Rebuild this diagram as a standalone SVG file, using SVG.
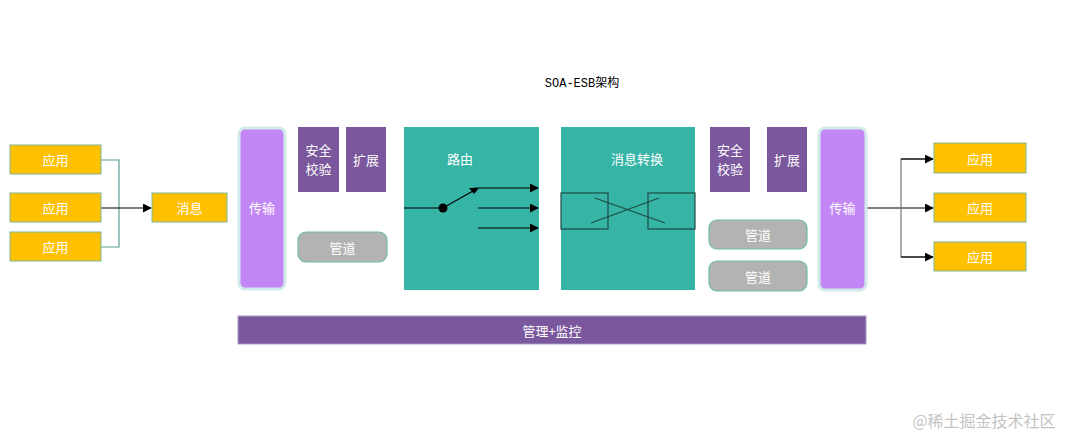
<svg xmlns="http://www.w3.org/2000/svg" width="1080" height="444" viewBox="0 0 1080 444">
<defs>
<marker id="ah" viewBox="0 0 10 10" refX="9" refY="5" markerWidth="9" markerHeight="9" markerUnits="userSpaceOnUse" orient="auto"><path d="M0,0 L10,5 L0,10 z" fill="#000"/></marker>
<style>
text{font-family:"Noto Sans CJK SC","Noto Sans",sans-serif;font-size:13px;fill:#fff;text-anchor:middle;dominant-baseline:central}
.app{fill:#FFC000;stroke:#7DB89A;stroke-width:1}
.dark{fill:#7B579D}
.trans{fill:#C286F5;stroke:#D2EBEA;stroke-width:3}
.pipe{fill:#B3B3B3;stroke:#6DBFA5;stroke-width:1.2}
.teal{fill:#36B5A6}
.ln{stroke:#000;stroke-width:1.2;fill:none}
</style>
</defs>
<rect width="1080" height="444" fill="#fff"/>
<text x="582" y="84" style="font-family:'Liberation Mono','Noto Sans CJK SC',monospace;font-size:12px;fill:#000">SOA-ESB架构</text>

<g id="connectors">
<path d="M101,160 H119 V247 H101" fill="none" stroke="#5A9E94" stroke-width="1.2"/>
<path class="ln" d="M101,208 H151" marker-end="url(#ah)"/>
<path class="ln" d="M866,208 H933" marker-end="url(#ah)"/>
<path d="M933,159 H901 V257 H933" fill="none" stroke="#777" stroke-width="1.2"/>
<path class="ln" d="M901,159 H933" marker-end="url(#ah)"/>
<path class="ln" d="M901,257 H933" marker-end="url(#ah)"/>
</g>

<g id="app-l1"><rect class="app" x="10" y="145" width="91" height="29"/><text x="55.5" y="159.5">应用</text></g>
<g id="app-l2"><rect class="app" x="10" y="193" width="91" height="29"/><text x="55.5" y="207.5">应用</text></g>
<g id="app-l3"><rect class="app" x="10" y="232" width="91" height="29"/><text x="55.5" y="246.5">应用</text></g>
<g id="msg"><rect class="app" x="152" y="193" width="75" height="29"/><text x="189.5" y="207.5">消息</text></g>

<g id="trans-l"><rect class="trans" x="239" y="128" width="46" height="161" rx="6"/><text x="262" y="207">传输</text></g>
<g id="sec-l"><rect class="dark" x="298" y="127" width="41" height="65"/><text x="318.5" y="149">安全</text><text x="318.5" y="168">校验</text></g>
<g id="ext-l"><rect class="dark" x="346" y="127" width="40" height="65"/><text x="366" y="159">扩展</text></g>
<g id="pipe-l"><rect class="pipe" x="298" y="232" width="89" height="30" rx="8"/><text x="342.5" y="247">管道</text></g>

<g id="route">
<rect class="teal" x="404" y="127" width="135" height="163"/>
<text x="460" y="158">路由</text>
<path class="ln" d="M404,208 H443 L473,191"/>
<circle cx="443" cy="208" r="4.5" fill="#000"/>
<path d="M469,188 L479,188 L474,194 z" fill="#000"/>
<path class="ln" d="M474,188 H538" marker-end="url(#ah)"/>
<path class="ln" d="M478,208 H538" marker-end="url(#ah)"/>
<path class="ln" d="M478,228 H538" marker-end="url(#ah)"/>
</g>

<g id="convert">
<rect class="teal" x="561" y="127" width="134" height="163"/>
<text x="637" y="158">消息转换</text>
<rect x="561" y="193" width="47" height="36" fill="none" stroke="#1E4A44" stroke-width="1.2"/>
<rect x="648" y="193" width="47" height="36" fill="none" stroke="#1E4A44" stroke-width="1.2"/>
<path d="M595,198 L665,223 M591,223 L659,198" stroke="#1E4A44" stroke-width="1.2" fill="none"/>
</g>

<g id="sec-r"><rect class="dark" x="710" y="127" width="40" height="65"/><text x="730" y="149">安全</text><text x="730" y="168">校验</text></g>
<g id="ext-r"><rect class="dark" x="767" y="127" width="40" height="65"/><text x="787" y="159">扩展</text></g>
<g id="pipe-r1"><rect class="pipe" x="709" y="220" width="98" height="29" rx="8"/><text x="758" y="234.5">管道</text></g>
<g id="pipe-r2"><rect class="pipe" x="709" y="261" width="98" height="30" rx="8"/><text x="758" y="276">管道</text></g>
<g id="trans-r"><rect class="trans" x="819" y="128" width="47" height="162" rx="6"/><text x="842.5" y="207">传输</text></g>

<g id="app-r1"><rect class="app" x="934" y="143" width="92" height="30"/><text x="980" y="158">应用</text></g>
<g id="app-r2"><rect class="app" x="934" y="193" width="92" height="29"/><text x="980" y="207.5">应用</text></g>
<g id="app-r3"><rect class="app" x="934" y="242" width="92" height="29"/><text x="980" y="256.5">应用</text></g>

<g id="mgmt"><rect x="238" y="316" width="628" height="28" fill="#7B579D" stroke="#A99BC8" stroke-width="1"/><text x="552" y="330">管理+监控</text></g>

<text x="984" y="420" style="font-size:16px;fill:#C4C4C4">@稀土掘金技术社区</text>
</svg>
